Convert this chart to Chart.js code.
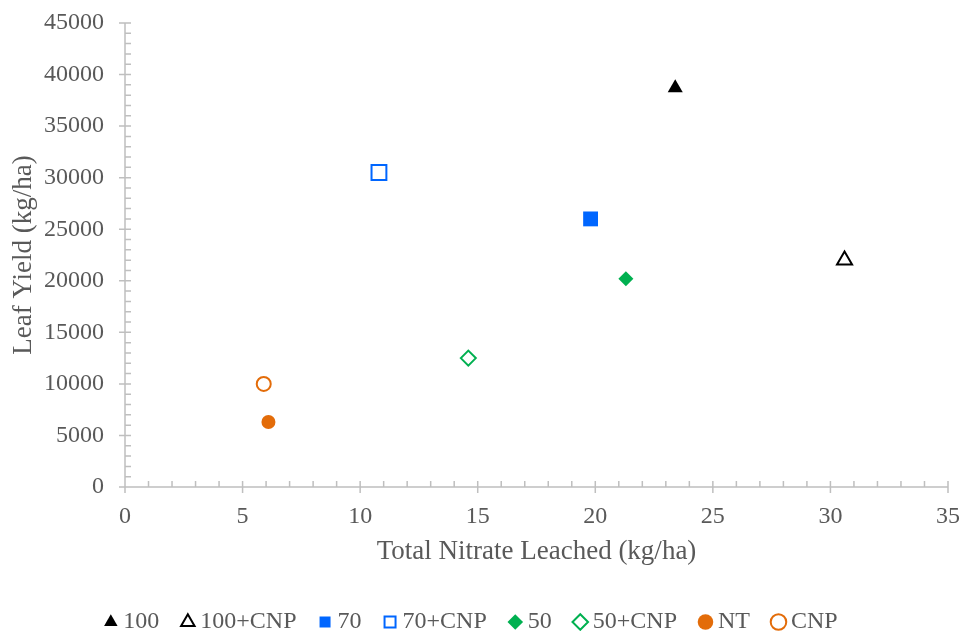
<!DOCTYPE html>
<html>
<head>
<meta charset="utf-8">
<script src="https://cdn.jsdelivr.net/npm/chart.js@4"></script>
<style>
  html, body { margin: 0; padding: 0; background: #fff; }
  #wrap { width: 964px; height: 631px; }
</style>
</head>
<body>
<div id="wrap"><canvas id="grafico"></canvas></div>
<script>
// Datos
const tratamientos = ['100', '100+CNP', '70', '70+CNP', '50', '50+CNP', 'NT', 'CNP'];
const nitrato = [23.4, 30.6, 19.8, 10.8, 21.3, 14.6, 6.1, 5.9];
const rendimiento = [38700, 22000, 26000, 30500, 20200, 12500, 6300, 10000];
const ticksX = [0, 5, 10, 15, 20, 25, 30, 35];
const ticksY = [0, 5000, 10000, 15000, 20000, 25000, 30000, 35000, 40000, 45000];

const colores = ['#000000', '#000000', '#0066FF', '#0066FF', '#00B050', '#00B050', '#E36C09', '#E36C09'];
const formas = ['triangle', 'triangle', 'rect', 'rect', 'rectRot', 'rectRot', 'circle', 'circle'];
const radios = [8.7, 8.7, 10.5, 10.5, 7.5, 7.5, 7, 7];
const rellenos = [true, false, true, false, true, false, true, false];

const gris = '#595959';
const ejeColor = '#BFBFBF';
const fuente = "'Liberation Serif', 'Times New Roman', serif";

const datasets = tratamientos.map((t, i) => ({
    label: t,
    data: [{ x: nitrato[i], y: rendimiento[i] }],
    pointStyle: formas[i],
    pointRadius: radios[i],
    pointHoverRadius: radios[i],
    backgroundColor: rellenos[i] ? colores[i] : '#FFFFFF',
    borderColor: colores[i],
    borderWidth: rellenos[i] ? 0 : 2,
    pointBorderWidth: rellenos[i] ? 0 : 2
}));

// Marcas de los ejes: mayores cruzadas, menores hacia dentro
const marcasEjes = {
    id: 'marcasEjes',
    afterDraw(chart) {
        const ctx = chart.ctx;
        const x = chart.scales.x;
        const y = chart.scales.y;
        const x0 = x.left;
        const y0 = y.bottom;
        ctx.save();
        ctx.strokeStyle = ejeColor;
        ctx.lineWidth = 1.5;
        ctx.beginPath();
        ctx.moveTo(x0, y.top);
        ctx.lineTo(x0, y0);
        ctx.lineTo(x.right, y0);
        for (let v = x.min; v <= x.max; v += 1) {
            const px = x.getPixelForValue(v);
            const mayor = v % 5 === 0;
            ctx.moveTo(px, y0 + (mayor ? 6 : 0));
            ctx.lineTo(px, y0 - 6);
        }
        for (let v = y.min; v <= y.max; v += 1000) {
            const py = y.getPixelForValue(v);
            const mayor = v % 5000 === 0;
            ctx.moveTo(x0 - (mayor ? 6 : 0), py);
            ctx.lineTo(x0 + 6, py);
        }
        ctx.stroke();
        ctx.restore();
    }
};

new Chart(document.getElementById('grafico'), {
    type: 'scatter',
    data: { datasets: datasets },
    options: {
        responsive: true,
        maintainAspectRatio: false,
        animation: false,
        layout: { padding: { left: 0, right: 16, top: 23, bottom: -13 } },
        plugins: {
            tooltip: { enabled: false },
            legend: {
                position: 'bottom',
                labels: {
                    usePointStyle: true,
                    boxWidth: 1,
                    boxHeight: 11,
                    padding: 28,
                    color: gris,
                    font: { family: fuente, size: 24 }
                }
            }
        },
        scales: {
            x: {
                type: 'linear',
                min: 0,
                max: 35,
                afterBuildTicks: s => { s.ticks = ticksX.map(v => ({ value: v })); },
                afterFit: s => { s.height = 95; s.paddingLeft = 0; s.paddingRight = 0; },
                grid: { display: false, drawTicks: false },
                border: { display: false },
                ticks: {
                    color: gris,
                    padding: 15,
                    font: { family: fuente, size: 24 },
                    callback: v => String(v)
                },
                title: {
                    display: true,
                    text: 'Total Nitrate Leached (kg/ha)',
                    color: gris,
                    padding: { top: 8, bottom: 14 },
                    font: { family: fuente, size: 27 }
                }
            },
            y: {
                type: 'linear',
                min: 0,
                max: 45000,
                afterBuildTicks: s => { s.ticks = ticksY.map(v => ({ value: v })); },
                afterFit: s => { s.width = 125; s.paddingTop = 0; s.paddingBottom = 0; },
                grid: { display: false, drawTicks: false },
                border: { display: false },
                ticks: {
                    color: gris,
                    padding: 21,
                    font: { family: fuente, size: 24 },
                    callback: v => String(v)
                },
                title: {
                    display: true,
                    text: 'Leaf Yield (kg/ha)',
                    color: gris,
                    padding: { top: 8, bottom: 0 },
                    font: { family: fuente, size: 27 }
                }
            }
        }
    },
    plugins: [marcasEjes]
});
</script>
</body>
</html>
